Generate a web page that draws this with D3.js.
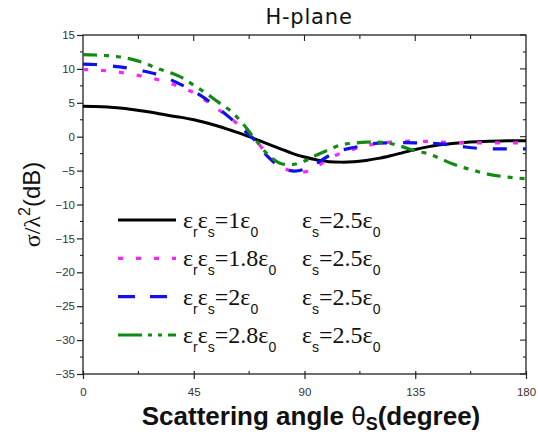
<!DOCTYPE html>
<html>
<head>
<meta charset="utf-8">
<script src="https://cdn.jsdelivr.net/npm/d3@7"></script>
<style>
  html, body { margin: 0; padding: 0; background: #fff; }
  svg { display: block; }
</style>
</head>
<body>
<svg id="chart" width="538" height="434"></svg>
<script>
// Scattering angle (degrees) shared by every curve
const angles = [0,5,10,15,20,25,30,35,40,45,50,55,60,65,70,75,80,85,90,
                95,100,105,110,115,120,125,130,135,140,145,150,155,160,165,170,175,180];

// Normalised RCS sigma/lambda^2 in dB for each permittivity case
const rcsEr1 = [4.5,4.47,4.38,4.22,4.0,3.75,3.45,3.12,2.85,2.5,2.05,1.55,0.95,0.35,-0.35,-1.05,-1.75,-2.45,-3.0,
                -3.42,-3.68,-3.75,-3.7,-3.5,-3.2,-2.8,-2.35,-1.9,-1.5,-1.2,-1.0,-0.85,-0.75,-0.68,-0.63,-0.6,-0.6];
const rcsEr18 = [9.9,9.85,9.7,9.5,9.2,8.85,8.45,7.95,7.25,6.5,5.3,4.0,2.7,1.2,-0.5,-2.6,-4.3,-5.1,-5.2,
                 -4.4,-3.2,-2.4,-1.85,-1.3,-1.0,-0.8,-0.7,-0.65,-0.7,-0.8,-0.85,-0.9,-0.9,-0.9,-0.9,-0.9,-0.9];
const rcsEr2 = [10.7,10.65,10.5,10.3,10.0,9.65,9.2,8.5,7.65,6.7,5.55,4.2,2.7,1.1,-0.6,-2.9,-4.4,-5.05,-4.8,
                -3.9,-2.8,-2.0,-1.6,-1.2,-0.95,-0.9,-0.88,-0.9,-0.95,-1.05,-1.25,-1.5,-1.7,-1.78,-1.8,-1.8,-1.8];
const rcsEr28 = [12.1,12.05,11.95,11.75,11.4,10.85,10.1,9.5,8.75,7.6,6.4,5.1,3.8,1.9,-0.4,-2.6,-3.9,-4.1,-3.6,
                 -2.7,-1.9,-1.2,-0.95,-0.8,-0.8,-1.0,-1.5,-2.1,-2.5,-3.2,-4.0,-4.6,-5.1,-5.55,-5.85,-6.05,-6.2];

// Legend entries: product epsilon_r*epsilon_s and epsilon_s (in units of epsilon_0)
const erProduct = ["1", "1.8", "2", "2.8"];
const epsS = ["2.5", "2.5", "2.5", "2.5"];

// Axis ticks
const xTicks = [0, 45, 90, 135, 180];
const yTicks = [15, 10, 5, 0, -5, -10, -15, -20, -25, -30, -35];

const series = [
  { values: rcsEr1,  color: "#000000", dash: null,           legendDash: null,           width: 3 },
  { values: rcsEr18, color: "#ff22ff", dash: "5,13",         legendDash: "5,13",         width: 3.2 },
  { values: rcsEr2,  color: "#1010e8", dash: "14,16",        legendDash: "17,15",        width: 3.2 },
  { values: rcsEr28, color: "#138a13", dash: "14,7,5,7,5,7", legendDash: "24,6,4,6,4,6", width: 3.2 }
];

const svg = d3.select("#chart");
const plotL = 83, plotR = 526, plotT = 35, plotB = 374;

const x = d3.scaleLinear().domain([0, 180]).range([plotL, plotR]);
const y = d3.scaleLinear().domain([-35, 15]).range([plotB, plotT]);

const sans = "Arial, 'Liberation Sans', sans-serif";
const serif = "'Liberation Serif', 'Times New Roman', serif";

// Frame
svg.append("rect")
  .attr("x", plotL).attr("y", plotT)
  .attr("width", plotR - plotL).attr("height", plotB - plotT)
  .attr("fill", "none").attr("stroke", "#222").attr("stroke-width", 1.3);

// Left axis: major ticks outward with labels, minor ticks between
const yAxis = d3.axisLeft(y).tickValues(yTicks).tickSize(6).tickPadding(2).tickFormat(d3.format("d"));
const gy = svg.append("g").attr("transform", `translate(${plotL},0)`).call(yAxis);
gy.select(".domain").remove();
gy.selectAll("line").attr("stroke", "#222").attr("stroke-width", 1.2);
gy.selectAll("text").attr("font-family", sans).attr("font-size", 11.5).attr("fill", "#333");

const yMinor = d3.range(-32.5, 15, 5);
svg.append("g").selectAll("line").data(yMinor).join("line")
  .attr("x1", plotL - 3).attr("x2", plotL)
  .attr("y1", d => y(d)).attr("y2", d => y(d))
  .attr("stroke", "#222").attr("stroke-width", 1.1);

// Right axis: inward ticks, major and minor
svg.append("g").selectAll("line").data(d3.range(-35, 15.1, 2.5)).join("line")
  .attr("x1", d => plotR - (d % 5 === 0 ? 6 : 3)).attr("x2", plotR)
  .attr("y1", d => y(d)).attr("y2", d => y(d))
  .attr("stroke", "#222").attr("stroke-width", 1.1);

// Bottom axis: major ticks crossing the axis, minor ticks inward
const xAxis = d3.axisBottom(x).tickValues(xTicks).tickSize(5).tickPadding(9).tickFormat(d3.format("d"));
const gx = svg.append("g").attr("transform", `translate(0,${plotB})`).call(xAxis);
gx.select(".domain").remove();
gx.selectAll("line").attr("y1", -3).attr("stroke", "#222").attr("stroke-width", 1.2);
gx.selectAll("text").attr("font-family", sans).attr("font-size", 11.5).attr("fill", "#333");

const xMinor = d3.range(22.5, 180, 45);
svg.append("g").selectAll("line").data(xMinor).join("line")
  .attr("x1", d => x(d)).attr("x2", d => x(d))
  .attr("y1", plotB - 3).attr("y2", plotB)
  .attr("stroke", "#222").attr("stroke-width", 1.1);

// Top axis: inward ticks
svg.append("g").selectAll("line").data(d3.range(22.5, 180, 22.5)).join("line")
  .attr("x1", d => x(d)).attr("x2", d => x(d))
  .attr("y1", plotT).attr("y2", d => plotT + (d % 45 === 0 ? 6 : 4))
  .attr("stroke", "#222").attr("stroke-width", 1.1);

// Curves
const line = d3.line()
  .x((d, i) => x(angles[i]))
  .y(d => y(d))
  .curve(d3.curveCatmullRom.alpha(0.5));

svg.append("g").selectAll("path").data(series).join("path")
  .attr("d", s => line(s.values))
  .attr("fill", "none")
  .attr("stroke", s => s.color)
  .attr("stroke-width", s => s.width)
  .attr("stroke-dasharray", s => s.dash);

// Legend
const legendRows = [220, 258.3, 296.7, 335];
const lg = svg.append("g");
series.forEach((s, i) => {
  const ry = legendRows[i];
  lg.append("line")
    .attr("x1", 118).attr("x2", 176).attr("y1", ry).attr("y2", ry)
    .attr("stroke", s.color).attr("stroke-width", s.width)
    .attr("stroke-dasharray", s.legendDash);

  const t1 = lg.append("text").attr("x", 183).attr("y", ry + 8)
    .attr("font-family", serif).attr("font-size", 24).attr("fill", "#111");
  t1.append("tspan").text("ε");
  t1.append("tspan").attr("dy", 9).attr("font-family", sans).attr("font-size", 14).text("r");
  t1.append("tspan").attr("dy", -9).text("ε");
  t1.append("tspan").attr("dy", 9).attr("font-family", sans).attr("font-size", 14).text("s");
  t1.append("tspan").attr("dy", -9).text("=" + erProduct[i] + "ε");
  t1.append("tspan").attr("dy", 9).attr("font-family", sans).attr("font-size", 14).text("0");

  const t2 = lg.append("text").attr("x", 302).attr("y", ry + 8)
    .attr("font-family", serif).attr("font-size", 24).attr("fill", "#111");
  t2.append("tspan").text("ε");
  t2.append("tspan").attr("dy", 9).attr("font-family", sans).attr("font-size", 14).text("s");
  t2.append("tspan").attr("dy", -9).text("=" + epsS[i] + "ε");
  t2.append("tspan").attr("dy", 9).attr("font-family", sans).attr("font-size", 14).text("0");
});

// Title
svg.append("text")
  .attr("x", 309).attr("y", 24)
  .attr("text-anchor", "middle")
  .attr("font-family", "'DejaVu Sans', sans-serif")
  .attr("font-size", 21).attr("letter-spacing", 0.8).attr("fill", "#111")
  .text("H-plane");

// X axis title
const xt = svg.append("text")
  .attr("x", 311).attr("y", 425)
  .attr("text-anchor", "middle")
  .attr("font-family", sans).attr("font-weight", "bold")
  .attr("font-size", 26).attr("fill", "#111");
xt.append("tspan").text("Scattering angle ");
xt.append("tspan").attr("font-weight", "normal").text("θ");
xt.append("tspan").attr("dy", 5).attr("font-size", 18).text("S");
xt.append("tspan").attr("dy", -5).text("(degree)");

// Y axis title
const yt = svg.append("text")
  .attr("transform", `translate(40,${(plotT + plotB) / 2}) rotate(-90)`)
  .attr("text-anchor", "middle")
  .attr("font-size", 24).attr("fill", "#111");
yt.append("tspan").attr("font-family", serif).text("σ/λ");
yt.append("tspan").attr("font-family", sans).attr("font-size", 16).attr("dy", -10).text("2");
yt.append("tspan").attr("font-family", sans).attr("dy", 10).text("(dB)");
</script>
</body>
</html>
